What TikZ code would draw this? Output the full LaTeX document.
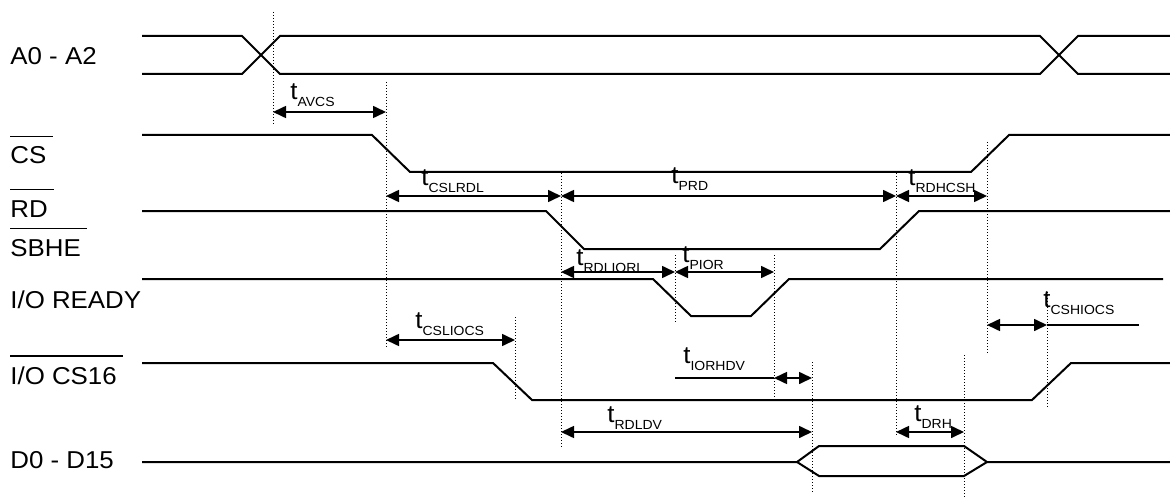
\documentclass[tikz,border=0pt]{standalone}
\usepackage{fontspec}
\setmainfont{Liberation Sans}[FakeStretch=1.06]
\usetikzlibrary{arrows.meta}
\newcommand{\tsub}[1]{t\raisebox{-3.5pt}{\fontsize{6.6}{7}\selectfont #1}}

\begin{document}
\begin{tikzpicture}[x=0.5pt,y=-0.5pt]
  \useasboundingbox (0,0) rectangle (1170,497);

  \tikzstyle{every node}=[font=\fontsize{12.2}{14}\selectfont,inner sep=0pt,anchor=base west]
  \tikzstyle{sig}=[line width=1pt]
  \tikzstyle{guide}=[line width=0.35pt,dash pattern=on 0.5pt off 1pt]
  \tikzstyle{dim}=[line width=0.8pt,{Triangle[length=6.5pt,width=6pt]}-{Triangle[length=6.5pt,width=6pt]}]
  \tikzstyle{bar}=[line width=0.6pt]

  % signal names
  \node (a02) at (10,65) {A0 - A2};
  \node (cs) at (10,164) {CS};
  \node (rd) at (10,217) {RD};
  \node (sbhe) at (10,256) {SBHE};
  \node (iordy) at (10,308) {I/O READY};
  \node (iocs) at (10,384) {I/O CS16};
  \node (d015) at (10,468) {D0 - D15};
  \foreach \n in {cs,rd,sbhe,iocs}
    \draw[bar] ([yshift=5pt]\n.north west) -- ([xshift=3pt,yshift=5pt]\n.north east);

  % waveforms
  \draw[sig] (142,36) -- (242,36) -- (280,74) -- (1040,74) -- (1078,36) -- (1170,36);
  \draw[sig] (142,74) -- (242,74) -- (280,36) -- (1040,36) -- (1078,74) -- (1170,74);
  \draw[sig] (142,135) -- (372,135) -- (410,172) -- (971,172) -- (1009,135) -- (1170,135);
  \draw[sig] (142,211) -- (546,211) -- (584,249) -- (880,249) -- (919,211) -- (1170,211);
  \draw[sig] (142,279) -- (653,279) -- (691,316) -- (751,316) -- (789,279) -- (1163,279);
  \draw[sig] (142,363) -- (493,363) -- (532,400) -- (1032,400) -- (1071,363) -- (1170,363);
  \draw[sig] (142,462) -- (797,462) -- (819,446) -- (964,446) -- (987,462) -- (1170,462);
  \draw[sig] (797,462) -- (819,476) -- (964,476) -- (987,462);

  % reference lines
  \foreach \x/\top/\bot in {273/12/126, 386/82/348, 561/173/447, 675/255/323,
      774/255/400, 515/317/400, 896/173/437, 987/142/355, 1047/292/407,
      812/362/492, 964/355/497}
    \draw[guide] (\x,\top) -- (\x,\bot);

  % timing parameters
  \foreach \from/\to/\y in {273/386/112, 386/561/196, 561/896/196, 896/987/196,
      561/675/272, 675/774/272, 386/515/340, 987/1047/325, 774/812/378,
      561/812/432, 896/964/432}
    \draw[dim] (\from,\y) -- (\to,\y);
  \draw[line width=0.8pt] (1047,325) -- (1139,325);
  \draw[line width=0.8pt] (675,378) -- (774,378);

  \foreach \nm/\x/\y in {AVCS/290/100, CSLRDL/421/185, PRD/671/184, RDHCSH/908/185,
      RDLIORL/576/265, PIOR/682/262, CSLIOCS/415/328, CSHIOCS/1043/307,
      IORHDV/683/363, RDLDV/607/422, DRH/914/421}
    \node (t\nm) at (\x,\y) {\tsub{\nm}};

\end{tikzpicture}
\end{document}
